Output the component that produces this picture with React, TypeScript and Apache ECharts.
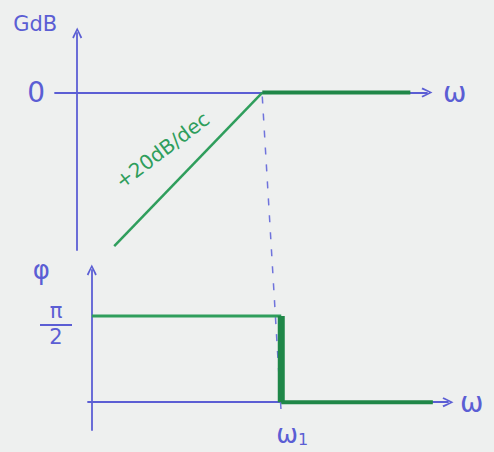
import React, { useEffect, useRef } from "react";
import * as echarts from "echarts";

// ω axis in decades (ω1 sits at 1)
const gainOmega = [0.2, 1, 1.8];
const gainDb = [-16, 0, 0];
const phaseOmega = [0, 1, 1, 1.8];
const phaseDeg = [90, 90, 0, 0];
const breakOmega = 1;
const gainTickValues = [0];
const gainTickLabels = ["0"];
const phaseTickValues = [90];
const omegaTickValues = [1];
const omegaTickLabels = ["{w|ω}{s|1}"];
const slopeText = "+20dB/dec";
const slopeTextAt = [0.46, -6.0];

const BLUE = "#5b5ed4";
const GREEN = "#2f9e5c";
const GREEN_DARK = "#1f8748";
const FONT = "DejaVu Sans";
const ARROW = "path://M0,10 L5,0 L10,10 L8.4,11 L5,3.2 L1.6,11 Z";

const pts = (xs: number[], ys: number[], from: number, to: number) =>
  xs.slice(from, to + 1).map((x, i) => [x, ys[from + i]]);

export default function App() {
  const ref = useRef<HTMLDivElement>(null);
  useEffect(() => {
    if (!ref.current) return;
    const chart = echarts.init(ref.current, undefined, { renderer: "svg" });
    const axisLine = {
      onZero: true,
      symbol: ["none", ARROW],
      symbolSize: [13, 11],
      lineStyle: { color: BLUE, width: 1.8 },
    };
    chart.setOption({
      animation: false,
      backgroundColor: "#eef0ef",
      grid: [
        { left: 55, right: 67, top: 33, bottom: 202, outerBoundsMode: "none" },
        { left: 88, right: 46, top: 270, bottom: 22, outerBoundsMode: "none" },
      ],
      xAxis: [
        {
          gridIndex: 0,
          type: "value",
          min: -0.12,
          max: 1.89,
          axisLine,
          axisTick: { show: false },
          splitLine: { show: false },
          axisLabel: { show: false },
          name: "ω",
          nameLocation: "end",
          nameGap: 16,
          nameTextStyle: { color: BLUE, fontSize: 28, fontFamily: FONT, verticalAlign: "middle" },
        },
        {
          gridIndex: 1,
          type: "value",
          min: -0.02,
          max: 1.88,
          axisLine,
          axisTick: { show: false },
          splitLine: { show: false },
          axisLabel: {
            show: true,
            customValues: omegaTickValues,
            formatter: (v: number) => omegaTickLabels[omegaTickValues.indexOf(v)] ?? "",
            color: BLUE,
            margin: -9,
            padding: [0, 0, 0, 22],
            rich: {
              w: { fontSize: 26, lineHeight: 26, color: BLUE, fontFamily: FONT, verticalAlign: "bottom" },
              s: {
                fontSize: 16,
                color: BLUE,
                fontFamily: FONT,
                verticalAlign: "bottom",
                padding: [10, 0, 0, 0],
              },
            },
          },
          name: "ω",
          nameLocation: "end",
          nameGap: 12,
          nameTextStyle: { color: BLUE, fontSize: 28, fontFamily: FONT, verticalAlign: "middle" },
        },
      ],
      yAxis: [
        {
          gridIndex: 0,
          type: "value",
          min: -16.4,
          max: 6.2,
          axisLine,
          axisTick: { show: false },
          splitLine: { show: false },
          axisLabel: {
            customValues: gainTickValues,
            formatter: (v: number) => gainTickLabels[gainTickValues.indexOf(v)] ?? "",
            color: BLUE,
            fontSize: 28,
            fontFamily: FONT,
            margin: 10,
          },
          name: "GdB",
          nameLocation: "end",
          nameGap: 9,
          nameTextStyle: {
            color: BLUE,
            fontSize: 21,
            fontFamily: FONT,
            align: "right",
            verticalAlign: "middle",
            padding: [0, 20, 0, 0],
          },
        },
        {
          gridIndex: 1,
          type: "value",
          min: -29,
          max: 138,
          axisLine,
          axisTick: { show: false },
          splitLine: { show: false },
          axisLabel: {
            customValues: phaseTickValues,
            formatter: () => "{n|π}\n{b| }\n{d|2}",
            color: BLUE,
            margin: 16,
            padding: [16, 0, 0, 0],
            rich: {
              n: { fontSize: 21, lineHeight: 22, color: BLUE, fontFamily: FONT, align: "center" },
              b: {
                fontSize: 2,
                lineHeight: 5,
                width: 32,
                height: 2,
                backgroundColor: BLUE,
                align: "center",
              },
              d: { fontSize: 21, lineHeight: 20, color: BLUE, fontFamily: FONT, align: "center" },
            },
          },
          name: "φ",
          nameLocation: "end",
          nameGap: 0,
          nameTextStyle: {
            color: BLUE,
            fontSize: 26,
            fontFamily: FONT,
            align: "right",
            verticalAlign: "middle",
            padding: [0, 42, 0, 0],
          },
        },
      ],
      series: [
        {
          type: "line",
          xAxisIndex: 0,
          yAxisIndex: 0,
          data: pts(gainOmega, gainDb, 0, 1),
          symbol: "none",
          lineStyle: { color: GREEN, width: 2.5 },
          markPoint: {
            symbol: "circle",
            symbolSize: 0,
            data: [{ coord: slopeTextAt, value: slopeText }],
            label: {
              show: true,
              position: "inside",
              formatter: slopeText,
              rotate: 37,
              color: GREEN,
              fontSize: 20,
              fontFamily: FONT,
            },
          },
        },
        {
          type: "line",
          xAxisIndex: 0,
          yAxisIndex: 0,
          data: pts(gainOmega, gainDb, 1, 2),
          symbol: "none",
          lineStyle: { color: GREEN_DARK, width: 4 },
        },
        {
          type: "line",
          xAxisIndex: 1,
          yAxisIndex: 1,
          data: pts(phaseOmega, phaseDeg, 0, 1),
          symbol: "none",
          lineStyle: { color: GREEN, width: 3 },
        },
        {
          type: "line",
          xAxisIndex: 1,
          yAxisIndex: 1,
          data: pts(phaseOmega, phaseDeg, 1, 2),
          symbol: "none",
          lineStyle: { color: GREEN_DARK, width: 7 },
        },
        {
          type: "line",
          xAxisIndex: 1,
          yAxisIndex: 1,
          data: pts(phaseOmega, phaseDeg, 2, 3),
          symbol: "none",
          lineStyle: { color: GREEN_DARK, width: 4 },
        },
      ],
    });
    const p1 = chart.convertToPixel({ xAxisIndex: 0, yAxisIndex: 0 }, [breakOmega, 0]) as number[];
    const p2 = chart.convertToPixel({ xAxisIndex: 1, yAxisIndex: 1 }, [breakOmega, 0]) as number[];
    if (p1 && p2) {
      chart.setOption({
        graphic: [
          {
            type: "line",
            z: 1,
            shape: { x1: p1[0], y1: p1[1] + 4, x2: p2[0], y2: p2[1] + 12 },
            style: { stroke: "#6f73dc", lineWidth: 1.5, lineDash: [7, 10] },
          },
        ],
      });
    }
    return () => chart.dispose();
  }, []);
  return (
    <div
      ref={ref}
      style={{ position: "fixed", left: 0, top: 0, width: 494, height: 452 }}
    />
  );
}
